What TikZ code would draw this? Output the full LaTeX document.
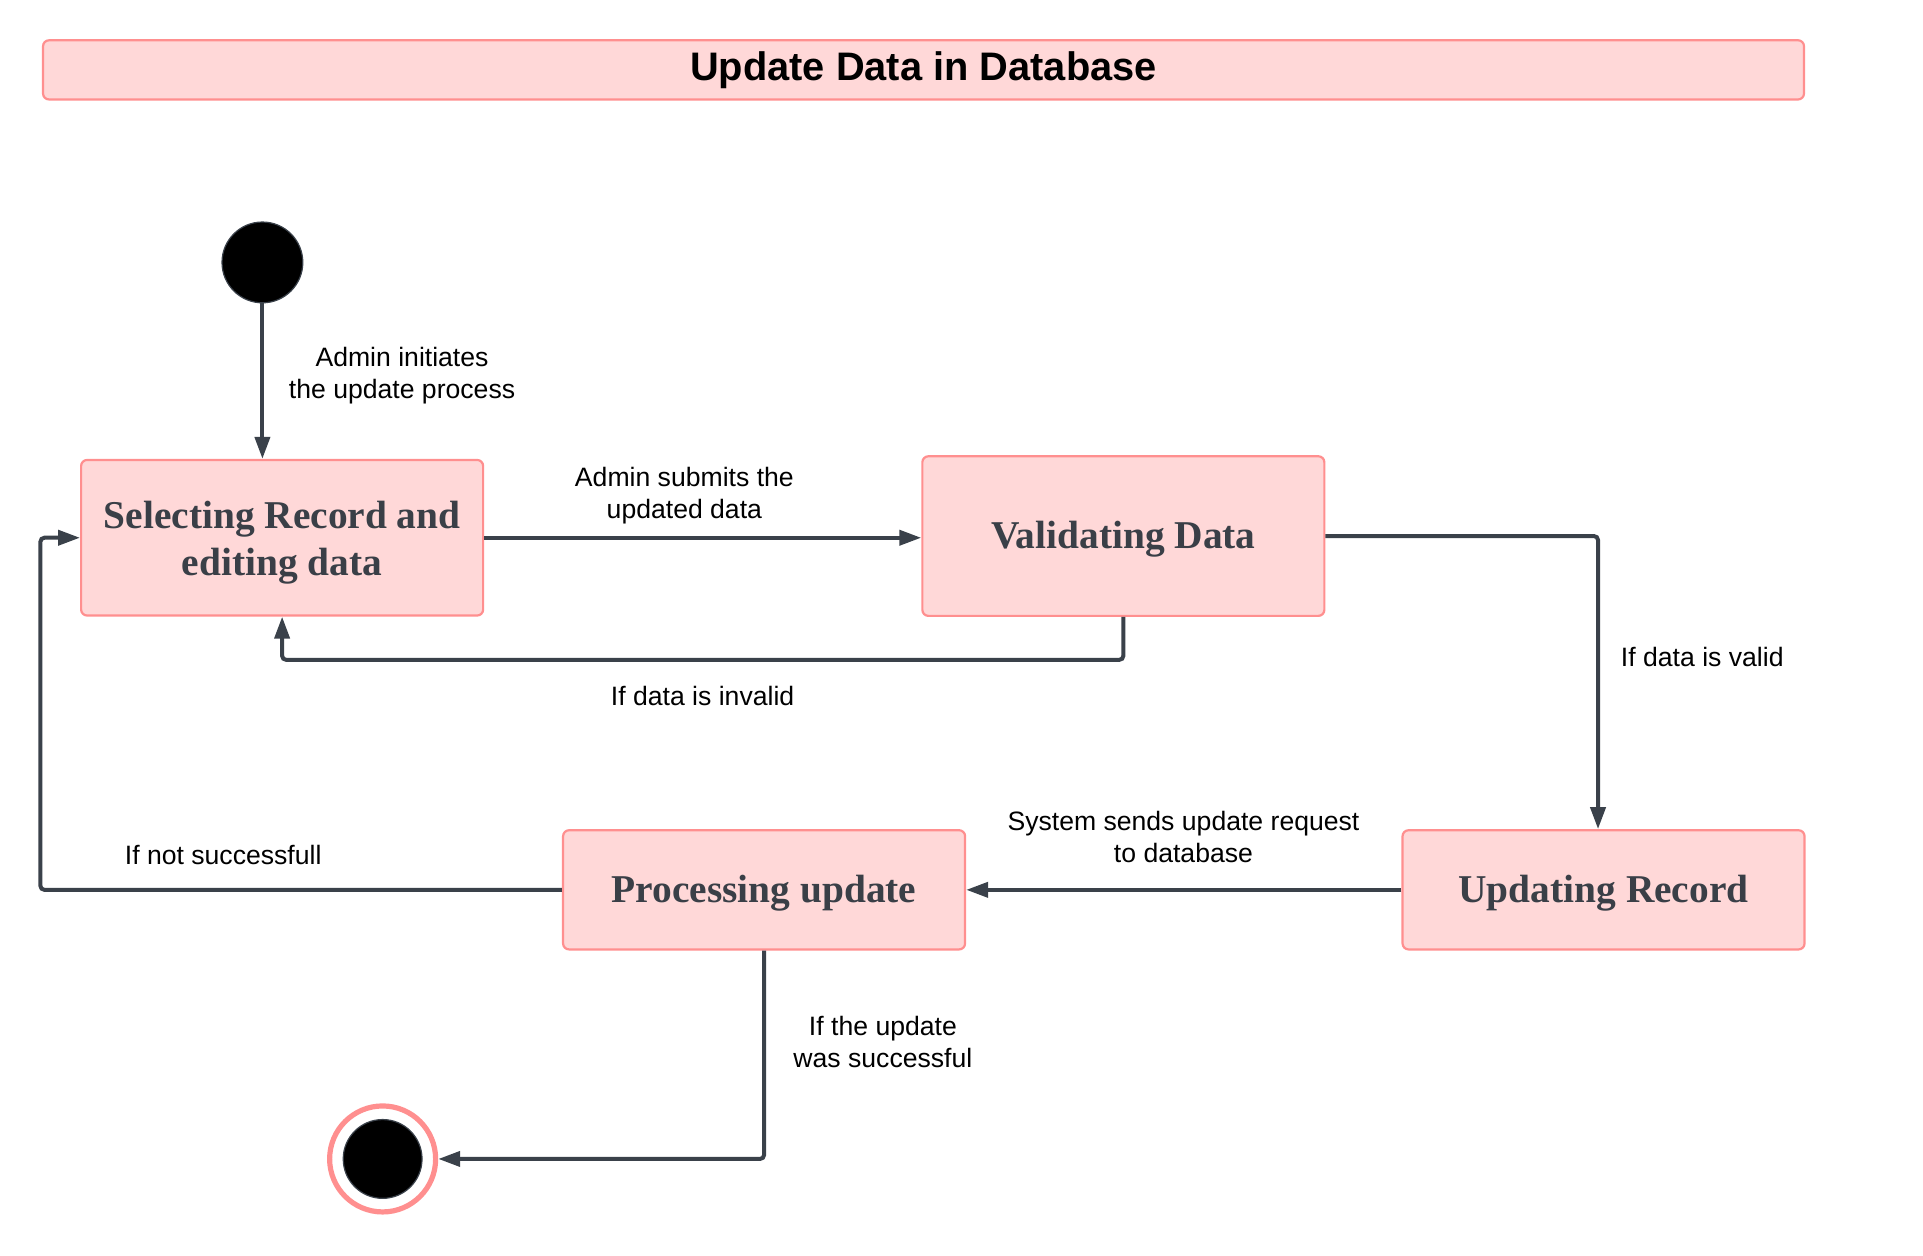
\documentclass[tikz,border=0pt]{standalone}
\usepackage{fontspec}
\setmainfont{Liberation Sans}
\newfontfamily\boxfont{Liberation Serif}
\usetikzlibrary{arrows.meta}
\definecolor{boxfill}{RGB}{255,216,216}
\definecolor{boxline}{RGB}{255,143,143}
\definecolor{wire}{RGB}{58,65,74}
\definecolor{boxtext}{RGB}{58,63,71}
\begin{document}
\begin{tikzpicture}[x=0.4927pt,y=-0.4927pt,
  statebox/.style={draw=boxline,fill=boxfill,line width=1.1pt,rounded corners=3pt,
    minimum width=201pt,inner sep=0pt,align=center,text height=17pt,
    font=\boxfont\bfseries\fontsize{19.7}{23.5}\selectfont,text=boxtext},
  wirestyle/.style={draw=wire,line width=2pt,rounded corners=2pt,
    -{Triangle[length=11pt,width=7.5pt]}},
  lbl/.style={font=\fontsize{13.3}{16}\selectfont,align=center,text=black,inner sep=0pt}]
\useasboundingbox (0,0) rectangle (1951.5,1273.6);
% title
\node[draw=boxline,fill=boxfill,line width=1.1pt,rounded corners=3pt,
  minimum width=880.5pt,minimum height=29.6pt,inner sep=0pt,
  font=\bfseries\fontsize{19.9}{24}\selectfont] (title) at (937.2,70.9) {Update Data in Database};
% start and end
\node[circle,fill=black,draw=wire,line width=0.6pt,minimum size=40.4pt,inner sep=0pt] (start) at (266.3,266.3) {};
\node[circle,draw=boxline,line width=2.6pt,fill=white,minimum size=53pt,inner sep=0pt] (endring) at (388.3,1176.1) {};
\node[circle,fill=black,draw=wire,line width=0.6pt,minimum size=39.4pt,inner sep=0pt] (endc) at (388.3,1176.1) {};
% states
\node[statebox,minimum height=77.8pt,text height=42pt] (sel) at (286.3,545.7) {Selecting Record and\\editing data};
\node[statebox,minimum height=79.8pt] (val) at (1140,544) {Validating Data};
\node[statebox,minimum height=59.6pt] (upd) at (1627.3,903) {Updating Record};
\node[statebox,minimum height=59.6pt] (proc) at (775.4,903) {Processing update};
% helper coordinates
\coordinate (c1) at (1621.7,544);
\coordinate (c2) at (41,903);
\coordinate (c3) at (41,545.7);
% connectors
\draw[wirestyle] (start) -- (start |- sel.north);
\draw[wirestyle] (sel.east) -- (val.west |- sel.east);
\draw[wirestyle] (val.south) -- (1140,669.6) -- (286.3,669.6) -- (sel.south);
\draw[wirestyle] (val.east) -- (c1) -- (c1 |- upd.north);
\draw[wirestyle] (upd.west) -- (proc.east);
\draw[wirestyle] (proc.west) -- (c2) -- (c3) -- (sel.west);
\draw[wirestyle] (proc.south) -- (775.4,1176.1) -- (endring.east);
% labels
\node[lbl] (l1) at (408,381) {Admin initiates\\the update process};
\node[lbl] (l2) at (694.5,503) {Admin submits the\\updated data};
\node[lbl] (l3) at (713,706) {If data is invalid};
\node[lbl] (l4) at (1727.5,667) {If data is valid};
\node[lbl] (l5) at (1201,849) {System sends update request\\to database};
\node[lbl] (l6) at (226.5,867.5) {If not successfull};
\node[lbl] (l7) at (896,1057) {If the update\\was successful};
\end{tikzpicture}
\end{document}
